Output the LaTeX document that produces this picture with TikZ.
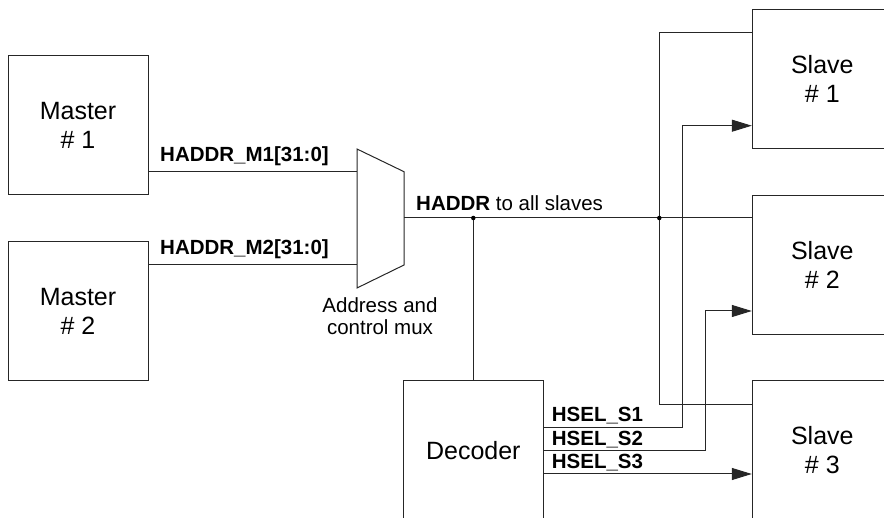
\documentclass[tikz,border=0pt]{standalone}
\usepackage{fontspec}
\setmainfont{Liberation Sans}
\usetikzlibrary{arrows.meta}
\tikzset{
  wire/.style={draw=black!85, line width=1pt},
  arr/.style={wire, -{Triangle[length=20pt,width=12pt]}},
  block/.style={draw=black!85, line width=1pt, rectangle, minimum width=140pt, minimum height=139pt, inner sep=0pt,
    align=center, font=\fontsize{25}{29}\selectfont},
  lab/.style={inner sep=0pt, anchor=base west, font=\fontsize{20.5}{24}\selectfont\bfseries},
  dot/.style={circle, fill=black, inner sep=0pt, minimum size=4.5pt},
}
\begin{document}
\begin{tikzpicture}[x=1pt,y=-1pt]
\useasboundingbox (0,0) rectangle (884,518);
\clip (0,0) rectangle (884,518);
% blocks
\node[block] (m1) at (78,125.5) {Master\\\# 1};
\node[block] (m2) at (78,311.5) {Master\\\# 2};
\node[block] (s1) at (822.3,79.2) {Slave\\\# 1};
\node[block] (s2) at (822.3,265) {Slave\\\# 2};
\node[block] (s3) at (822.3,450.5) {Slave\\\# 3};
\node[block] (dec) at (473.3,450.5) {Decoder};
% mux
\coordinate (muxa) at (357,149);
\coordinate (muxb) at (404,171.7);
\coordinate (muxc) at (404,265);
\coordinate (muxd) at (357,288);
\draw[wire] (muxa) -- (muxb) -- (muxc) -- (muxd) -- cycle;
\coordinate (in1) at (357,171.7);
\coordinate (in2) at (357,265);
\coordinate (mo) at (404,218);
\node[inner sep=0pt, align=center, font=\fontsize{20.5}{22.3}\selectfont, anchor=base] (muxlab) at (380,335) {Address and\\control mux};
% master connections
\draw[wire] (m1.east |- in1) -- (in1);
\draw[wire] (m2.east |- in2) -- (in2);
\node[lab] (l1) at (160,161.5) {HADDR\_M1[31:0]};
\node[lab] (l2) at (160,255) {HADDR\_M2[31:0]};
% HADDR bus
\coordinate (j1) at (473.3,218);
\coordinate (j2) at (659.3,218);
\draw[wire] (mo) -- (mo -| s2.west);
\node[lab] (hl) at (416,210.5) {HADDR\mdseries\ to all slaves};
\draw[wire] (j1) -- (dec.north);
\draw[wire] (s1.west |- 0,32.7) -- (659.3,32.7) -- (659.3,404.3) -- (s3.west |- 0,404.3);
\node[dot] (d1) at (j1) {};
\node[dot] (d2) at (j2) {};
% select lines
\draw[arr] (dec.east |- 0,427.7) -- (682.3,427.7) -- (682.3,125.7) -- (s1.west |- 0,125.7);
\draw[arr] (dec.east |- 0,451) -- (705.7,451) -- (705.7,311) -- (s2.west |- 0,311);
\draw[arr] (dec.east |- 0,474) -- (s3.west |- 0,474);
\node[lab] (h1) at (551.7,421.7) {HSEL\_S1};
\node[lab] (h2) at (551.7,445.7) {HSEL\_S2};
\node[lab] (h3) at (551.7,468.3) {HSEL\_S3};
\end{tikzpicture}
\end{document}
